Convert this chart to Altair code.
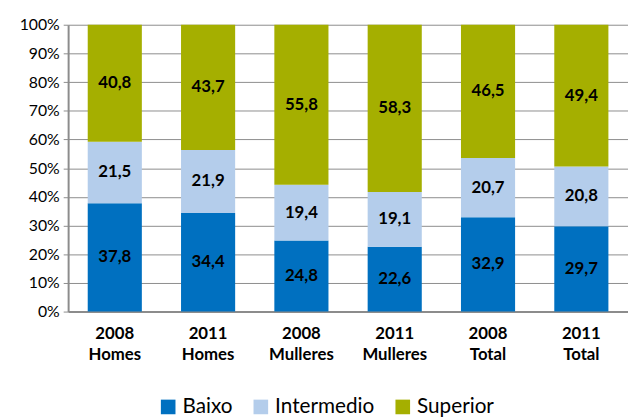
import altair as alt
import pandas as pd

categories = ["2008\nHomes", "2011\nHomes", "2008\nMulleres", "2011\nMulleres", "2008\nTotal", "2011\nTotal"]
levels = ["Baixo", "Intermedio", "Superior"]
baixo = [37.8, 34.4, 24.8, 22.6, 32.9, 29.7]
intermedio = [21.5, 21.9, 19.4, 19.1, 20.7, 20.8]
superior = [40.8, 43.7, 55.8, 58.3, 46.5, 49.4]
colors = ["#0070C0", "#B4CDEB", "#A5AF00"]
yticks = [0, 0.1, 0.2, 0.3, 0.4, 0.5, 0.6, 0.7, 0.8, 0.9, 1.0]

rows = []
for i, c in enumerate(categories):
    for j, (lvl, vals) in enumerate(zip(levels, [baixo, intermedio, superior])):
        rows.append({"cat": c, "nivel": lvl, "valor": vals[i], "ord": j,
                     "lab": f"{vals[i]:.1f}".replace(".", ",")})
df = pd.DataFrame(rows)

font = "Lato"
xenc = alt.X("cat:N", sort=categories, title=None,
             scale=alt.Scale(paddingInner=0.42, paddingOuter=0.21),
             axis=alt.Axis(labelExpr="split(datum.label, '\\n')", labelAngle=0,
                           labelFontWeight="bold", labelFontSize=17, labelFont=font,
                           labelColor="black", ticks=False, labelPadding=14,
                           domainColor="#8c8c8c", domainWidth=2, labelLineHeight=22))
yaxis = alt.Axis(format=".0%", values=yticks, labelOverlap=False,
                 labelFontSize=16, labelFont=font, labelColor="black",
                 gridColor="#8c8c8c", gridWidth=1, tickColor="#8c8c8c",
                 tickSize=5, domainColor="#8c8c8c", domainWidth=2,
                 labelPadding=4)
yscale = alt.Scale(domain=[0, 1])

base = alt.Chart(df).transform_stack(
    stack="valor", groupby=["cat"], sort=[alt.SortField("ord")], offset="normalize",
    as_=["y0", "y1"]
).transform_calculate(mid="(datum.y0 + datum.y1) / 2")

bars = base.mark_bar().encode(
    x=xenc,
    y=alt.Y("y0:Q", title=None, scale=yscale, axis=yaxis),
    y2="y1:Q",
    color=alt.Color("nivel:N", sort=levels,
                    scale=alt.Scale(domain=levels, range=colors),
                    legend=alt.Legend(title=None, orient="none", direction="horizontal",
                                      legendX=91, legendY=377, symbolType="square",
                                      symbolSize=220, symbolStrokeWidth=0,
                                      labelFontSize=21, labelFont=font,
                                      labelColor="black", columnPadding=18,
                                      symbolOffset=0)),
)

text = base.mark_text(fontWeight="bold", fontSize=17, font=font, color="black").encode(
    x=alt.X("cat:N", sort=categories),
    y=alt.Y("mid:Q", title=None, scale=yscale, axis=yaxis),
    text="lab:N",
)

chart = (bars + text).properties(
    width=568, height=291,
    autosize=alt.AutoSizeParams(type="none"),
    padding={"left": 61, "top": 14, "right": 0, "bottom": 106},
).configure_view(stroke=None)

chart.save("out.html", embed_options={"renderer": "svg", "actions": False})
